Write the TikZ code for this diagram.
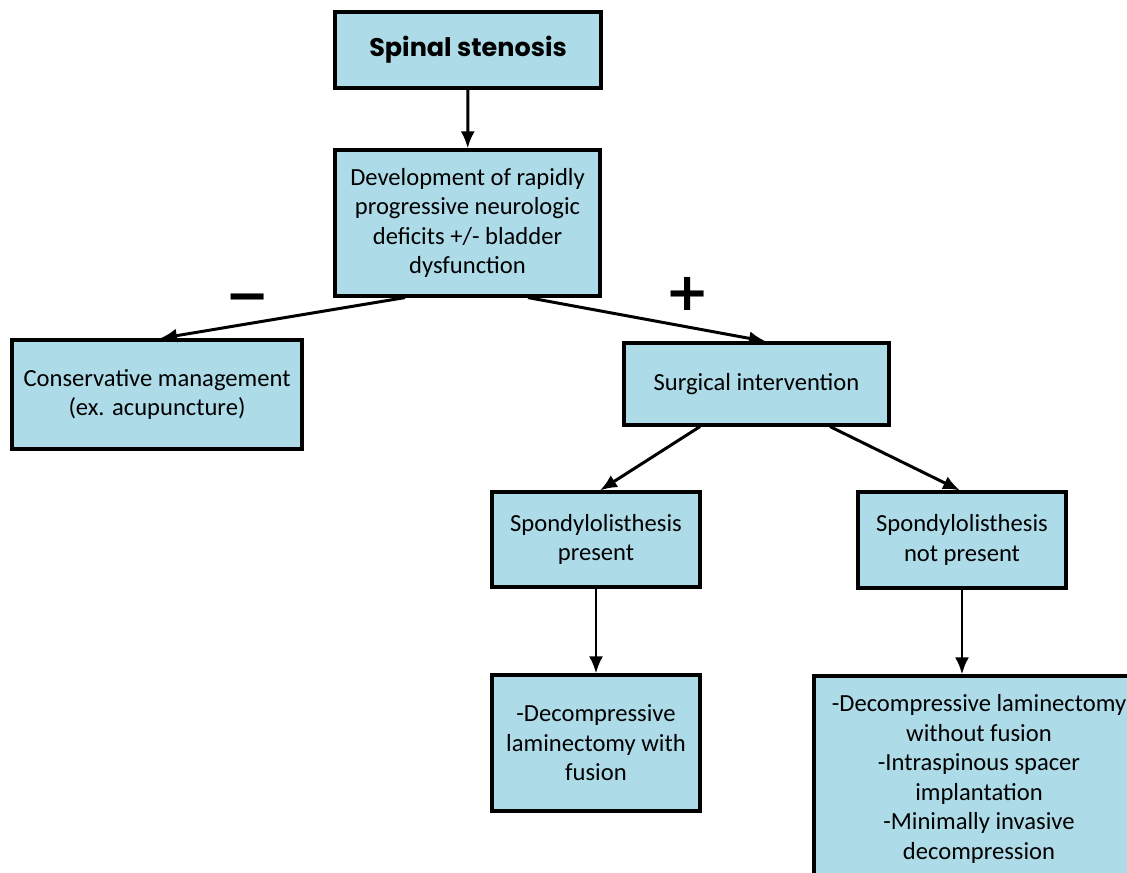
\documentclass[tikz,border=0pt]{standalone}
\usepackage{fontspec}
\setmainfont{Carlito}
\newfontfamily\titlefont{Poppins}
\newfontfamily\signfont{DejaVu Sans}
\usetikzlibrary{arrows.meta}
\definecolor{boxblue}{RGB}{173,219,232}
\tikzstyle{entry}=[draw, line width=1.8pt, fill=boxblue, align=center, inner sep=0pt, font=\fontsize{14}{16.8}\selectfont]
\tikzstyle{link}=[line width=1.7pt, -{Latex[length=3.4mm, width=2.8mm]}]
\tikzstyle{sign}=[font=\signfont\bfseries\fontsize{30}{30}\selectfont]

\begin{document}
\begin{tikzpicture}[x=0.02cm, y=-0.02cm]
\useasboundingbox (0,0) rectangle (1127,873);

\node (spinal) at (468,50) [entry, minimum width=5.32cm, minimum height=1.52cm, font=\titlefont\bfseries\fontsize{14.5}{18}\selectfont] {Spinal stenosis};
\node (dev) at (467.5,223) [entry, minimum width=5.3cm, minimum height=2.92cm] {Development of rapidly\\progressive neurologic\\deficits +/- bladder\\dysfunction};

\node (cons) at (157,394.5) [entry, minimum width=5.8cm, minimum height=2.18cm] {Conservative management\\(ex. acupuncture)};
\node (surg) at (756.5,384) [entry, minimum width=5.3cm, minimum height=1.64cm] {Surgical intervention};

\node (spondy) at (596,539.5) [entry, minimum width=4.16cm, minimum height=1.9cm] {Spondylolisthesis\\present};
\node (nospondy) at (962,540) [entry, minimum width=4.16cm, minimum height=1.92cm] {Spondylolisthesis\\not present};

\node (fusion) at (596,743) [entry, minimum width=4.16cm, minimum height=2.72cm] {-Decompressive\\laminectomy with\\fusion};
\node (nofusion) at (979,779) [entry, minimum width=6.6cm, minimum height=4.12cm] {-Decompressive laminectomy\\without fusion\\-Intraspinous spacer\\implantation\\-Minimally invasive\\decompression};

\node (minus) at (248,304) [sign] {−};
\node (plus) at (688,294) [sign] {+};

\draw [link] (spinal) -- (dev);
\draw [link] ([xshift=-1.25cm]dev.south) -- ([xshift=0.06cm]cons.north);
\draw [link] ([xshift=1.21cm]dev.south) -- ([xshift=0.19cm]surg.north);
\draw [link] ([xshift=-1.13cm]surg.south) -- ([xshift=0.08cm]spondy.north);
\draw [link] ([xshift=1.47cm]surg.south) -- ([xshift=-0.04cm]nospondy.north);
\draw [link] (spondy) -- (fusion);
\draw [link] (nospondy.south) -- (nospondy.south |- nofusion.north);

\end{tikzpicture}
\end{document}
